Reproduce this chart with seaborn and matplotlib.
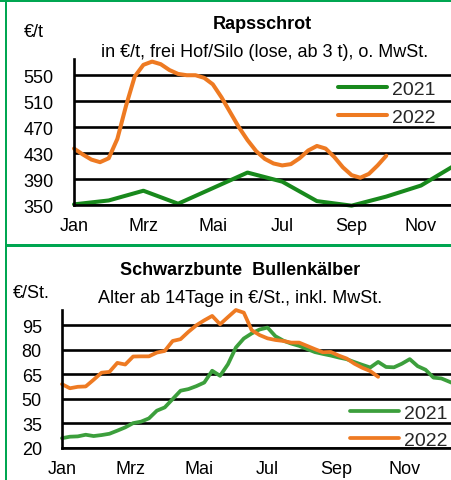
import matplotlib
matplotlib.use("Agg")
import matplotlib.pyplot as plt
from matplotlib.patches import Rectangle
import seaborn as sns
import pandas as pd

sns.set_theme(style="white")
plt.rcParams['font.family'] = ['Liberation Sans', 'DejaVu Sans']

# --- Rapsschrot (monthly, 2022) ---
month_ticks = [0, 2, 4, 6, 8, 10]
month_labels = ["Jan", "Mrz", "Mai", "Jul", "Sep", "Nov"]

rap_months_2021 = [0, 1, 2, 3, 4, 5, 6, 7, 8, 9, 10, 11]
rap_2021 = [351, 357, 372, 352, 376, 400, 386, 356, 349, 363, 380, 412]

rap_months_2022 = [0, 0.25, 0.5, 0.75, 1, 1.25, 1.5, 1.75, 2, 2.25, 2.5, 2.75, 3, 3.25,
                   3.5, 3.75, 4, 4.25, 4.5, 4.75, 5, 5.25, 5.5, 5.75, 6, 6.25, 6.5,
                   6.75, 7, 7.25, 7.5, 7.75, 8, 8.25, 8.5, 8.75, 9]
rap_2022 = [437, 428, 420, 416, 422, 452, 503, 548, 566, 571, 567, 558, 552, 550,
            550, 546, 536, 516, 493, 470, 450, 433, 421, 414, 411, 413, 422,
            434, 441, 437, 424, 408, 396, 392, 398, 411, 426]

# --- Schwarzbunte Bullenkaelber (weekly) ---
kalb_2021 = [26, 26.9, 27.1, 28.1, 27.3, 27.9, 28.7, 30.6, 32.6, 35.2, 36.1, 38.1,
             42.8, 44.8, 49.9, 55, 56, 57.8, 60, 67.2, 64.1, 71.2, 81.4, 86.9,
             90, 92.4, 93.6, 88.3, 85.6, 83.8, 82.4, 80.5, 78.6, 77.5, 76.5, 75.3,
             74.3, 72.5, 70.8, 69.2, 72.6, 69.5, 69.3, 71.5, 74.3, 70, 67.8, 63,
             62.5, 60.5, 58.5, 57.5]
kalb_2022 = [59, 56.5, 57.4, 57.6, 61.7, 66, 66.5, 72, 71, 75.9, 76, 76, 78.3,
             79.3, 85.4, 86.5, 91, 95, 98, 100.7, 95.6, 100, 104.3, 102.7, 92,
             89, 87, 86, 85.4, 84.4, 84.4, 82.4, 80.4, 78.5, 78.7, 76.5, 74.7,
             71.5, 69, 67, 63.5]

green_dark = "#18891c"
green_light = "#3c9f3c"
orange = "#ee7a22"
frame_green = "#00a651"

W, H = 451, 481
fig = plt.figure(figsize=(W / 100, H / 100), dpi=100)


def fx(x):
    return x / W


def fy(y):
    return 1 - y / H


def style_axes(ax, yticks):
    ax.set_facecolor("none")
    for s in ["top", "right"]:
        ax.spines[s].set_visible(False)
    for s in ["left", "bottom"]:
        ax.spines[s].set_color("black")
        ax.spines[s].set_linewidth(1.9)
    ax.set_yticks(yticks)
    ax.yaxis.grid(True, color="black", linewidth=1.9)
    ax.xaxis.grid(False)
    ax.set_axisbelow(True)
    ax.tick_params(axis="both", which="both", direction="out", color="black",
                   width=1.9, labelsize=13, labelcolor="black")
    ax.tick_params(axis="y", length=4.5, pad=10)
    ax.tick_params(axis="x", length=4.5, pad=4)
    ax.set_xlabel("")
    ax.set_ylabel("")


# top panel
ax1 = fig.add_axes([fx(74), fy(206), (455.7 - 74) / W, (206 - 60) / H])
df1 = pd.DataFrame({"m": rap_months_2021, "v": rap_2021})
df2 = pd.DataFrame({"m": rap_months_2022, "v": rap_2022})
sns.lineplot(data=df1, x="m", y="v", ax=ax1, color=green_dark, linewidth=2.9,
             label="2021", clip_on=False, solid_joinstyle="round")
sns.lineplot(data=df2, x="m", y="v", ax=ax1, color=orange, linewidth=2.9,
             label="2022", clip_on=False, solid_joinstyle="round", solid_capstyle="round")
ax1.set_xlim(0, 11)
ax1.set_ylim(350, 575)
ax1.set_xticks(month_ticks)
ax1.set_xticklabels(month_labels)
style_axes(ax1, [350, 390, 430, 470, 510, 550])
ax1.legend(loc="upper left", bbox_to_anchor=(fx(338), fy(81.5)), bbox_transform=fig.transFigure,
           frameon=False, borderpad=0, borderaxespad=0, handlelength=2.5,
           handletextpad=0.3, labelspacing=0.52, fontsize=14)

# bottom panel
weeks_per_month = 52 / 12
ax2 = fig.add_axes([fx(62), fy(449), (473 - 62) / W, (449 - 310.7) / H])
df3 = pd.DataFrame({"w": range(len(kalb_2021)), "v": kalb_2021})
df4 = pd.DataFrame({"w": range(len(kalb_2022)), "v": kalb_2022})
sns.lineplot(data=df3, x="w", y="v", ax=ax2, color=green_light, linewidth=2.7,
             label="2021", clip_on=False)
sns.lineplot(data=df4, x="w", y="v", ax=ax2, color=orange, linewidth=2.7,
             label="2022", clip_on=False)
ax2.set_xlim(0, 52)
ax2.set_ylim(20, 104.5)
ax2.set_xticks([m * weeks_per_month for m in month_ticks])
ax2.set_xticklabels(month_labels)
style_axes(ax2, [20, 35, 50, 65, 80, 95])
ax2.legend(loc="upper left", bbox_to_anchor=(fx(350), fy(405.5)), bbox_transform=fig.transFigure,
           frameon=False, borderpad=0, borderaxespad=0, handlelength=2.5,
           handletextpad=0.3, labelspacing=0.46, fontsize=14)

# titles and units
fig.text(fx(262), fy(29), "Rapsschrot", ha="center", va="baseline", fontsize=13,
         fontweight="bold", color="black")
fig.text(fx(264.5), fy(57), "in €/t, frei Hof/Silo (lose, ab 3 t), o. MwSt.", ha="center",
         va="baseline", fontsize=13, color="black")
fig.text(fx(24), fy(37), "€/t", ha="left", va="baseline", fontsize=13, color="black")

fig.text(fx(240), fy(275), "Schwarzbunte  Bullenkälber", ha="center", va="baseline",
         fontsize=13, fontweight="bold", color="black")
fig.text(fx(240.5), fy(303), "Alter ab 14Tage in €/St., inkl. MwSt.", ha="center",
         va="baseline", fontsize=13, color="black")
fig.text(fx(13), fy(298), "€/St.", ha="left", va="baseline", fontsize=13, color="black")

# green frame
for x0, y0, x1, y1 in [(0, 0, W, 3), (4.5, 0, 7, H), (4.5, 244.5, W, 248)]:
    fig.add_artist(Rectangle((fx(x0), fy(y1)), (x1 - x0) / W, (y1 - y0) / H,
                             transform=fig.transFigure, color=frame_green, lw=0))

fig.savefig("out.png", dpi=100)
